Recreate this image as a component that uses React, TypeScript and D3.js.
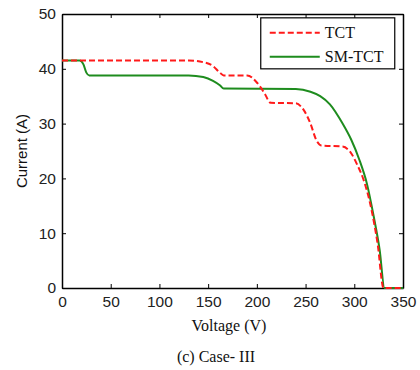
import React, { useRef, useEffect } from 'react';
import * as d3 from 'd3';

interface Pt {
  v: number;
  i: number;
}

const tctVoltage = [0, 130, 145, 155, 162, 166, 190, 200, 208, 214, 240, 248, 255, 261, 266, 288, 296, 303, 310, 318, 324, 330, 350];
const tctCurrent = [41.5, 41.5, 41.2, 40.5, 39.3, 38.8, 38.8, 37.5, 35.5, 33.8, 33.7, 32.5, 30, 27, 26, 25.8, 24.8, 22.5, 19.5, 14, 8, 0, 0];

const smVoltage = [0, 18, 22, 25, 28, 130, 145, 155, 162, 166, 240, 255, 265, 275, 288, 297, 305, 313, 320, 326, 331, 350];
const smCurrent = [41.5, 41.5, 40.8, 39.3, 38.8, 38.8, 38.5, 37.8, 37, 36.4, 36.3, 35.8, 35, 33.5, 30, 27, 23.5, 19, 13, 7, 0, 0];

const xTicks = [0, 50, 100, 150, 200, 250, 300, 350];
const yTicks = [0, 10, 20, 30, 40, 50];

const seriesNames = ['TCT', 'SM-TCT'];
const seriesColors = ['#ff1a1a', '#1e8c1e'];

const toPts = (vs: number[], is: number[]): Pt[] => vs.map((v, k) => ({ v, i: is[k] }));

const App: React.FC = () => {
  const svgRef = useRef<SVGSVGElement>(null);
  const width = 420;
  const height = 370;
  const margin = { top: 14, right: 17, bottom: 82, left: 62 };

  useEffect(() => {
    if (!svgRef.current) return;
    const svg = d3.select(svgRef.current);
    svg.selectAll('*').remove();

    const innerWidth = width - margin.left - margin.right;
    const innerHeight = height - margin.top - margin.bottom;

    const g = svg.append('g').attr('transform', `translate(${margin.left},${margin.top})`);

    const x = d3.scaleLinear().domain([0, 350]).range([0, innerWidth]);
    const y = d3.scaleLinear().domain([0, 50]).range([innerHeight, 0]);

    // Axes (MATLAB style box with inward ticks)
    const tickFont = '"Liberation Sans", Arial, sans-serif';
    const bottom = g.append('g')
      .attr('transform', `translate(0,${innerHeight})`)
      .call(d3.axisBottom(x).tickValues(xTicks).tickSizeInner(-4).tickSizeOuter(0).tickPadding(8));
    const left = g.append('g')
      .call(d3.axisLeft(y).tickValues(yTicks).tickSizeInner(-4).tickSizeOuter(0).tickPadding(6));
    const top = g.append('g')
      .call(d3.axisTop(x).tickValues(xTicks).tickSizeInner(-4).tickSizeOuter(0).tickFormat(() => ''));
    const right = g.append('g')
      .attr('transform', `translate(${innerWidth},0)`)
      .call(d3.axisRight(y).tickValues(yTicks).tickSizeInner(-4).tickSizeOuter(0).tickFormat(() => ''));

    [bottom, left, top, right].forEach(a => {
      a.select('.domain').attr('stroke', '#000').attr('stroke-width', 1.5);
      a.selectAll('.tick line').attr('stroke', '#000');
      a.selectAll('text')
        .attr('font-family', tickFont)
        .attr('font-size', 15.5)
        .attr('fill', '#222');
    });

    const line = d3.line<Pt>()
      .x(d => x(d.v))
      .y(d => y(d.i))
      .curve(d3.curveMonotoneX);

    g.append('path')
      .datum(toPts(smVoltage, smCurrent))
      .attr('fill', 'none')
      .attr('stroke', seriesColors[1])
      .attr('stroke-width', 2)
      .attr('d', line);

    g.append('path')
      .datum(toPts(tctVoltage, tctCurrent))
      .attr('fill', 'none')
      .attr('stroke', seriesColors[0])
      .attr('stroke-width', 2)
      .attr('stroke-dasharray', '6,3')
      .attr('d', line);

    // Legend
    const lg = g.append('g').attr('transform', `translate(${x(204)},${y(49.3)})`);
    lg.append('rect')
      .attr('width', 134)
      .attr('height', 51)
      .attr('fill', '#fff')
      .attr('stroke', '#000')
      .attr('stroke-width', 1.2);
    seriesNames.forEach((name, k) => {
      const cy = 15 + k * 24;
      lg.append('line')
        .attr('x1', 9)
        .attr('x2', 59)
        .attr('y1', cy)
        .attr('y2', cy)
        .attr('stroke', seriesColors[k])
        .attr('stroke-width', 2)
        .attr('stroke-dasharray', k === 0 ? '6,3' : null);
      lg.append('text')
        .attr('x', 64)
        .attr('y', cy + 5)
        .attr('font-family', '"Liberation Serif", "Times New Roman", serif')
        .attr('font-size', 16)
        .attr('fill', '#111')
        .text(name);
    });
  }, []);

  const serif = '"Liberation Serif", "Times New Roman", serif';

  return (
    <div style={{ position: 'absolute', left: 0, top: 0, width, height, background: '#fff' }}>
      <svg ref={svgRef} width={width} height={height} style={{ position: 'absolute', left: 0, top: 0 }} />
      <svg width={width} height={height} style={{ position: 'absolute', left: 0, top: 0, pointerEvents: 'none' }}>
        <text
          transform="translate(27,151) rotate(-90)"
          textAnchor="middle"
          fontFamily='"Liberation Sans", Arial, sans-serif'
          fontSize={15}
          fill="#111"
        >
          Current (A)
        </text>
        <text x={229} y={331} textAnchor="middle" fontFamily={serif} fontSize={16} fill="#111">
          Voltage (V)
        </text>
        <text x={216} y={362} textAnchor="middle" fontFamily={serif} fontSize={16} fill="#111">
          (c) Case- III
        </text>
      </svg>
    </div>
  );
};

export default App;
